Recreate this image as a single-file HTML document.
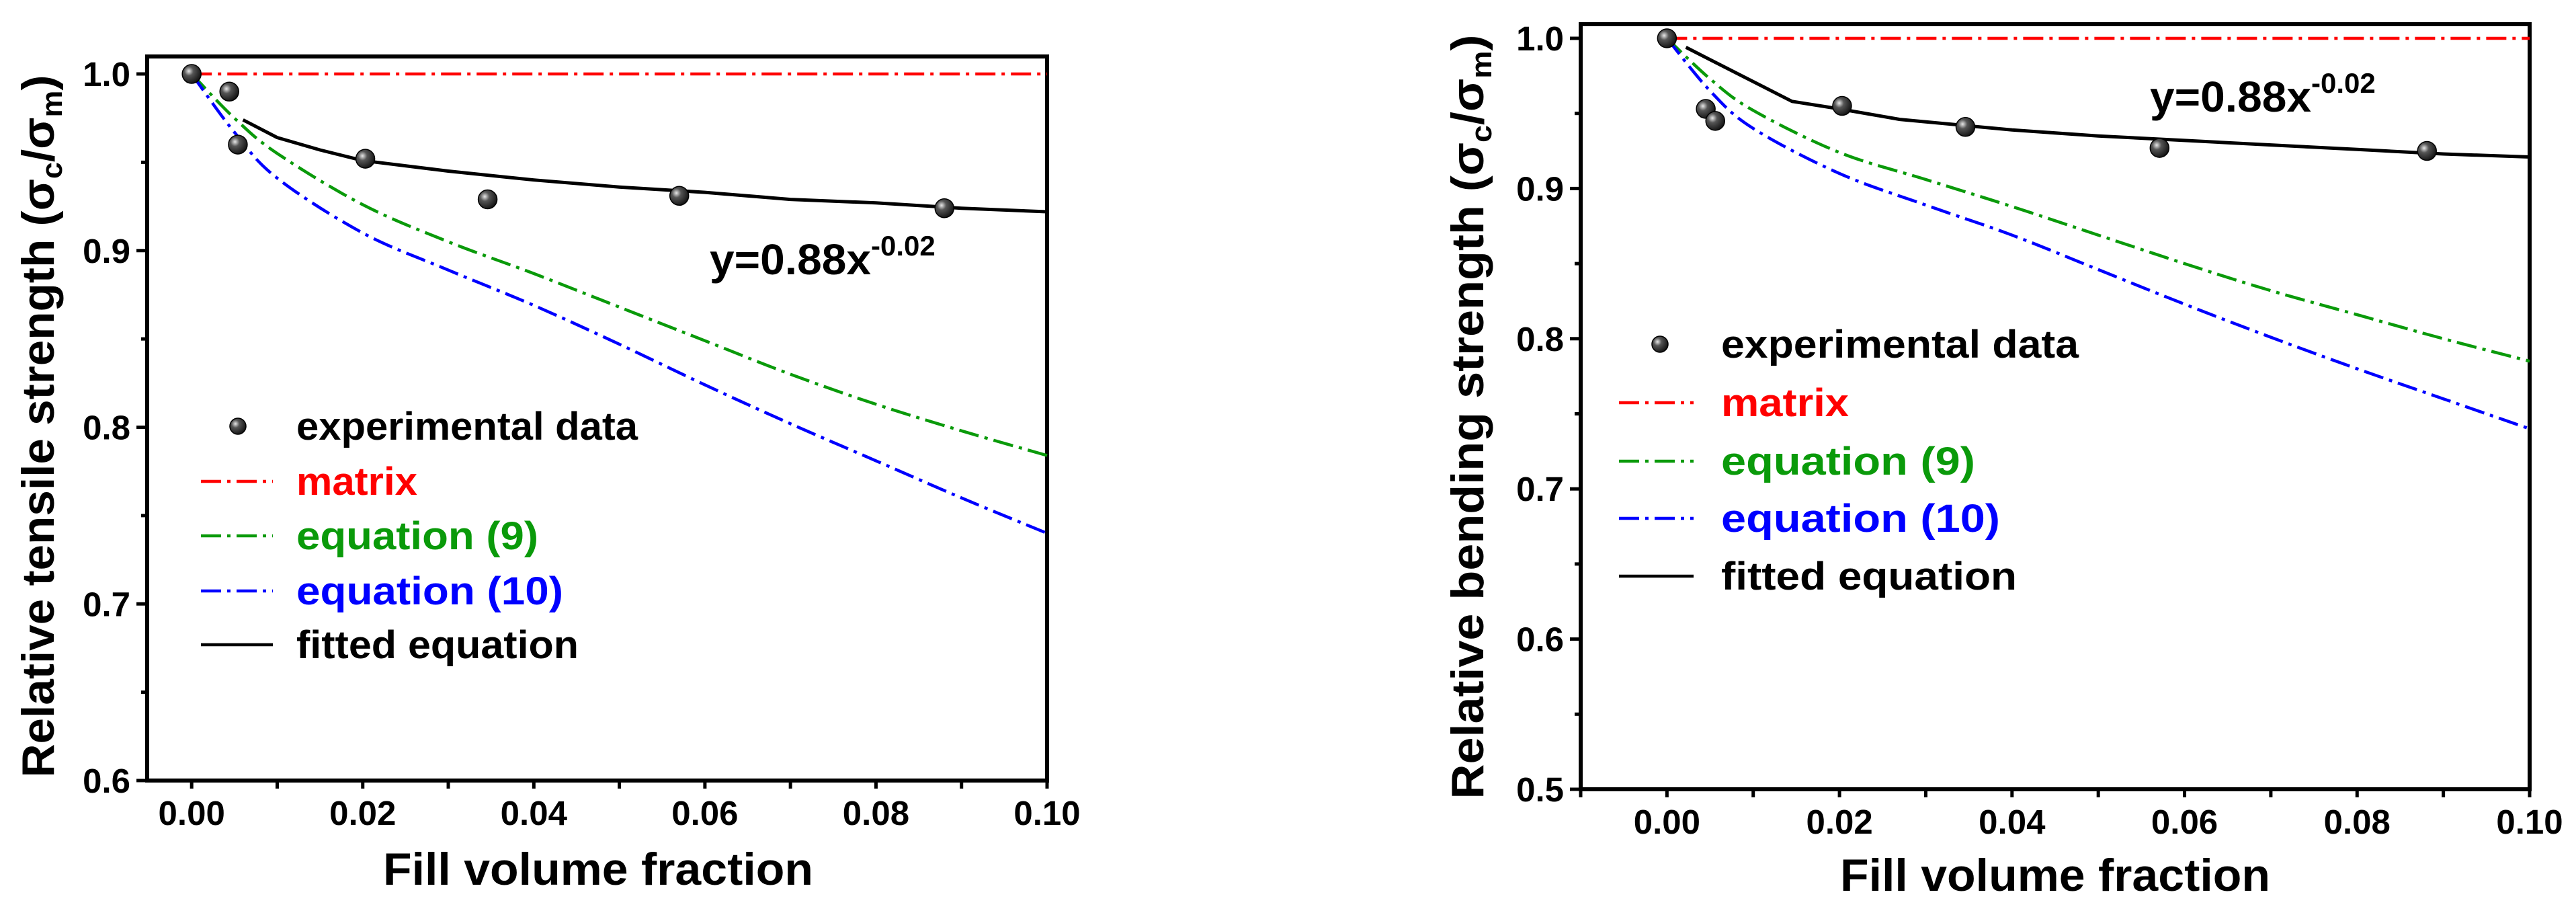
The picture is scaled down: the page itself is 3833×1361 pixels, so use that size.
<!DOCTYPE html>
<html><head><meta charset="utf-8"><style>
html,body{margin:0;padding:0;background:#fff}
svg{display:block;font-family:"Liberation Sans",sans-serif;font-weight:bold}
</style></head><body>
<svg id="fig" width="3833" height="1361" viewBox="0 0 3833 1361" xmlns="http://www.w3.org/2000/svg">
<defs>
<radialGradient id="ball" cx="0.35" cy="0.35" r="0.7">
<stop offset="0" stop-color="#e8e8e8"/><stop offset="0.35" stop-color="#555"/><stop offset="1" stop-color="#111"/>
</radialGradient>
</defs>
</svg>
<script>
// ---- Left chart data (tensile) ----
const expXA = [0, 0.0044, 0.0054, 0.0203, 0.0346, 0.057, 0.088];
const expYA = [1.0, 0.990, 0.960, 0.952, 0.929, 0.931, 0.924];
const fitXA = [0.006, 0.01, 0.015, 0.02, 0.03, 0.04, 0.05, 0.06, 0.07, 0.08, 0.09, 0.1];
const fitYA = [0.974, 0.964, 0.957, 0.951, 0.945, 0.940, 0.936, 0.933, 0.929, 0.927, 0.924, 0.922];
const eqXA = [0, 0.005, 0.01, 0.02, 0.03, 0.04, 0.05, 0.06, 0.07, 0.08, 0.09, 0.1];
const eq9YA = [1.0, 0.975, 0.955, 0.926, 0.905, 0.887, 0.868, 0.849, 0.830, 0.813, 0.798, 0.784];
const eq10YA = [1.0, 0.967, 0.941, 0.910, 0.889, 0.869, 0.847, 0.824, 0.802, 0.781, 0.760, 0.740];
const yTicksA = [0.6, 0.7, 0.8, 0.9, 1.0];
const yTickLabelsA = ["0.6", "0.7", "0.8", "0.9", "1.0"];
// ---- Right chart data (bending) ----
const expXB = [0, 0.0045, 0.0056, 0.0203, 0.0346, 0.0571, 0.0881];
const expYB = [1.0, 0.953, 0.945, 0.955, 0.941, 0.927, 0.925];
const fitXB = [0.0022, 0.0145, 0.02, 0.027, 0.04, 0.05, 0.06, 0.07, 0.08, 0.09, 0.1];
const fitYB = [0.994, 0.958, 0.953, 0.946, 0.939, 0.935, 0.932, 0.929, 0.926, 0.923, 0.921];
const eqXB = [0, 0.005, 0.01, 0.02, 0.03, 0.04, 0.05, 0.06, 0.07, 0.08, 0.09, 0.1];
const eq9YB = [1.0, 0.973, 0.952, 0.924, 0.906, 0.888, 0.869, 0.850, 0.832, 0.816, 0.800, 0.785];
const eq10YB = [1.0, 0.965, 0.940, 0.910, 0.889, 0.869, 0.846, 0.823, 0.801, 0.780, 0.760, 0.740];
const yTicksB = [0.5, 0.6, 0.7, 0.8, 0.9, 1.0];
const yTickLabelsB = ["0.5", "0.6", "0.7", "0.8", "0.9", "1.0"];
const xTicks = [0, 0.02, 0.04, 0.06, 0.08, 0.1];
const xTickLabels = ["0.00", "0.02", "0.04", "0.06", "0.08", "0.10"];
const legendLabels = ["experimental data", "matrix", "equation  (9)", "equation  (10)", "fitted equation"];

const NS = "http://www.w3.org/2000/svg";
const svg = document.getElementById("fig");
function mk(tag, attrs, parent) {
  const e = document.createElementNS(NS, tag);
  for (const k in attrs) e.setAttribute(k, attrs[k]);
  (parent || svg).appendChild(e);
  return e;
}
const DASH = "30 9 5 9";

function chart(c) {
  const g = mk("g", {});
  
  
  const sx = v => c.L + (v - c.xmin) / (c.xmax - c.xmin) * (c.R - c.L);
  const sy = v => c.B - (v - c.ymin) / (c.ymax - c.ymin) * (c.B - c.T);
  const fr = mk("rect", {x: c.L, y: c.T, width: c.R - c.L, height: c.B - c.T, fill: "none", stroke: "#000", "stroke-width": 6}, g);
  
  
  for (let i = 0; i < c.yTicks.length; i++) {
    const y = sy(c.yTicks[i]);
    mk("line", {x1: c.L - 16, x2: c.L, y1: y, y2: y, stroke: "#000", "stroke-width": 5}, g);
    if (i < c.yTicks.length - 1) {
      const ym = sy(c.yTicks[i] + 0.05);
      mk("line", {x1: c.L - 9, x2: c.L, y1: ym, y2: ym, stroke: "#000", "stroke-width": 5}, g);
    }
    const t = mk("text", {x: c.L - 25, y: y + 18, "text-anchor": "end", "font-size": 51}, g);
    t.textContent = c.yLabels[i];
    
    
  }
  for (let v = -0.01; v <= 0.1001; v += 0.01) {
    if (v < c.xmin - 1e-9) continue;
    const x = sx(v);
    mk("line", {x1: x, x2: x, y1: c.B, y2: c.B + 12, stroke: "#000", "stroke-width": 5}, g);
  }
  for (let i = 0; i < xTicks.length; i++) {
    const t = mk("text", {x: sx(xTicks[i]), y: c.B + 66, "text-anchor": "middle", "font-size": 51}, g);
    t.textContent = xTickLabels[i];
    
    
  }
  const xt = mk("text", {x: c.xTitleX, y: c.xTitleY, "text-anchor": "middle", "font-size": 68, textLength: 640, lengthAdjust: "spacingAndGlyphs"}, g);
  xt.textContent = "Fill volume fraction";
  
  
  const yt = mk("text", {x: 0, y: 0, "text-anchor": "middle", "font-size": 68, transform: `translate(${c.yTitleX},${c.yTitleY}) rotate(-90)`, textLength: c.yTitleLen, lengthAdjust: "spacingAndGlyphs"}, g);
  yt.innerHTML = c.yTitle + '  (σ<tspan font-size="44" dy="12">c</tspan><tspan dy="-12">/σ</tspan><tspan font-size="44" dy="12">m</tspan><tspan dy="-12">)</tspan>';
  
  
  const path = (xs, ys) => {
    const P = xs.map((x, i) => [sx(x), sy(ys[i])]);
    let d = "M" + P[0][0].toFixed(1) + " " + P[0][1].toFixed(1);
    for (let i = 0; i < P.length - 1; i++) {
      const p0 = P[Math.max(0, i - 1)], p1 = P[i], p2 = P[i + 1], p3 = P[Math.min(P.length - 1, i + 2)];
      const c1 = [p1[0] + (p2[0] - p0[0]) / 6, p1[1] + (p2[1] - p0[1]) / 6];
      const c2 = [p2[0] - (p3[0] - p1[0]) / 6, p2[1] - (p3[1] - p1[1]) / 6];
      d += ` C${c1[0].toFixed(1)} ${c1[1].toFixed(1)} ${c2[0].toFixed(1)} ${c2[1].toFixed(1)} ${p2[0].toFixed(1)} ${p2[1].toFixed(1)}`;
    }
    return d;
  };
  const poly = (xs, ys) => xs.map((x, i) => (i ? "L" : "M") + sx(x).toFixed(1) + " " + sy(ys[i]).toFixed(1)).join(" ");
  const red = mk("line", {x1: sx(0), x2: c.R, y1: sy(1), y2: sy(1), stroke: "#ff0000", "stroke-width": 4.5, "stroke-dasharray": DASH}, g);
  
  
  const gr = mk("path", {d: path(c.eqX, c.eq9), fill: "none", stroke: "#0a9a0a", "stroke-width": 4.5, "stroke-dasharray": DASH}, g);
  
  
  const bl = mk("path", {d: path(c.eqX, c.eq10), fill: "none", stroke: "#0000ff", "stroke-width": 4.5, "stroke-dasharray": DASH}, g);
  
  
  const fl = mk("path", {d: poly(c.fitX, c.fitY), fill: "none", stroke: "#000", "stroke-width": 5, "stroke-linejoin": "round"}, g);
  
  
  for (let i = 0; i < c.expX.length; i++) {
    const p = mk("circle", {cx: sx(c.expX[i]), cy: sy(c.expY[i]), r: 14, fill: "url(#ball)", stroke: "#000", "stroke-width": 1.5}, g);
    
    
  }
  const eq = mk("text", {x: c.eqLX, y: c.eqLY, "font-size": 64}, g);
  eq.innerHTML = '<tspan textLength="240" lengthAdjust="spacingAndGlyphs">y=0.88x</tspan><tspan font-size="42" dy="-28">-0.02</tspan>';
  
  
  const colors = ["#000", "#ff0000", "#0a9a0a", "#0000ff", "#000"];
  for (let i = 0; i < legendLabels.length; i++) {
    const y = c.legY[i];
    const le = mk("g", {}, g);
    
    
    if (i === 0) {
      mk("circle", {cx: c.legMX, cy: y, r: 12, fill: "url(#ball)", stroke: "#000", "stroke-width": 1.5}, le);
    } else {
      mk("line", {x1: c.legL1, x2: c.legL2, y1: y, y2: y, stroke: colors[i], "stroke-width": 4.5, "stroke-dasharray": i === 4 ? "none" : DASH}, le);
    }
    const t = mk("text", {x: c.legTX, y: y + 20, "font-size": 58, fill: colors[i], textLength: c.legW[i], lengthAdjust: "spacingAndGlyphs"}, le);
    t.textContent = legendLabels[i];
  }
}

chart({name: "tensile-chart", L: 219, R: 1558, T: 84, B: 1161, xmin: -0.0052, xmax: 0.1, ymin: 0.6, ymax: 1.0099,
  yTicks: yTicksA, yLabels: yTickLabelsA, expX: expXA, expY: expYA, fitX: fitXA, fitY: fitYA,
  eqX: eqXA, eq9: eq9YA, eq10: eq10YA,
  xTitleX: 890, xTitleY: 1316, yTitleX: 80, yTitleY: 634, yTitleLen: 1045, yTitle: "Relative tensile strength",
  eqLX: 1056, eqLY: 408, legY: [634, 716, 797, 879, 959], legMX: 354, legL1: 299, legL2: 406, legTX: 441,
  legW: [508, 180, 360, 397, 420]});
chart({name: "bending-chart", L: 2352, R: 3764, T: 36, B: 1174, xmin: -0.01, xmax: 0.1, ymin: 0.5, ymax: 1.0094,
  yTicks: yTicksB, yLabels: yTickLabelsB, expX: expXB, expY: expYB, fitX: fitXB, fitY: fitYB,
  eqX: eqXB, eq9: eq9YB, eq10: eq10YB,
  xTitleX: 3058, xTitleY: 1325, yTitleX: 2207, yTitleY: 620, yTitleLen: 1137, yTitle: "Relative bending strength",
  eqLX: 3199, eqLY: 166, legY: [512, 599, 686, 771, 857], legMX: 2470, legL1: 2409, legL2: 2520, legTX: 2561,
  legW: [532, 190, 378, 415, 440]});
</script>
</body></html>
